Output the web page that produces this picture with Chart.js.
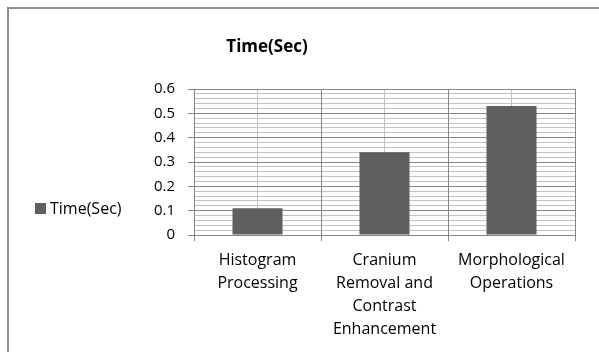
<!DOCTYPE html>
<html>
<head>
<meta charset="utf-8">
<script src="https://cdn.jsdelivr.net/npm/chart.js@4.4.1/dist/chart.umd.min.js"></script>
<style>
  html, body { margin: 0; padding: 0; background: #ffffff; }
  #wrap { position: relative; width: 599px; height: 352px; overflow: hidden; }
  #frame { position: absolute; left: 7px; top: 7px; width: 700px; height: 500px;
           border-left: 2px solid #8e8e8e; border-top: 2px solid #8e8e8e; }
  canvas { position: absolute; left: 0; top: 0; }
</style>
</head>
<body>
<div id="wrap">
  <div id="frame"></div>
  <canvas id="chart" width="599" height="352"></canvas>
</div>
<script>
// Processing stages and their run time in seconds
const categories = [
  ["Histogram", "Processing"],
  ["Cranium", "Removal and", "Contrast", "Enhancement"],
  ["Morphological", "Operations"]
];
const seriesName = "Time(Sec)";
const timeSec = [0.11, 0.34, 0.53];

const FONT = "'Open Sans', 'DejaVu Sans', sans-serif";
const MAJOR = "#868686";
const MINOR = "#c3c3c3";
const BAR = "#5f5f5f";

// Title and left-side legend drawn onto the canvas
const decorations = {
  id: "decorations",
  afterDraw(chart) {
    const ctx = chart.ctx;
    ctx.save();
    ctx.fillStyle = "#000000";
    ctx.font = "bold 17px " + FONT;
    ctx.textAlign = "center";
    ctx.textBaseline = "middle";
    ctx.fillText(chart.options.plugins.title.text, 267, 47);

    const ds = chart.data.datasets[0];
    ctx.fillStyle = ds.backgroundColor;
    ctx.fillRect(35, 203, 11, 11);
    ctx.fillStyle = "#000000";
    ctx.font = "16px " + FONT;
    ctx.textAlign = "left";
    ctx.fillText(ds.label, 50, 209);
    ctx.restore();
  }
};

new Chart(document.getElementById("chart"), {
  type: "bar",
  data: {
    labels: categories,
    datasets: [{
      label: seriesName,
      data: timeSec,
      backgroundColor: BAR,
      borderWidth: 0,
      categoryPercentage: 1,
      barPercentage: 0.394
    }]
  },
  options: {
    responsive: false,
    animation: false,
    layout: { padding: { left: 0, right: 24, top: 89, bottom: 0 } },
    plugins: {
      legend: { display: false },
      tooltip: { enabled: false },
      title: { display: false, text: "Time(Sec)" }
    },
    scales: {
      x: {
        type: "category",
        position: "bottom",
        offset: true,
        grid: { offset: true, color: MAJOR, lineWidth: 1, tickLength: 6, z: -1 },
        border: { color: MAJOR, width: 1 },
        ticks: {
          color: "#000000",
          padding: 8,
          maxRotation: 0,
          autoSkip: false,
          font: { family: FONT, size: 16, lineHeight: 23 / 16 }
        },
        afterFit(scale) { scale.height = 352 - 235; }
      },
      xMinor: {
        type: "category",
        position: "top",
        offset: true,
        grid: { offset: false, color: MINOR, lineWidth: 1, drawTicks: false, z: -2 },
        border: { display: false },
        ticks: { display: false },
        afterFit(scale) { scale.height = 0; }
      },
      y: {
        type: "linear",
        position: "left",
        min: 0,
        max: 0.6,
        ticks: {
          stepSize: 0.1,
          color: "#000000",
          padding: 13,
          font: { family: FONT, size: 15 },
          callback: (v) => (Math.round(v * 10) / 10).toString()
        },
        grid: { color: MAJOR, lineWidth: 1, tickLength: 6, z: -1 },
        border: { color: MAJOR, width: 1 },
        afterFit(scale) { scale.width = 194; }
      },
      yMinor: {
        type: "linear",
        position: "right",
        min: 0,
        max: 0.6,
        ticks: { display: false, stepSize: 0.02 },
        grid: { color: MINOR, lineWidth: 1, drawTicks: false, z: -2 },
        border: { display: false },
        afterFit(scale) { scale.width = 0; }
      }
    }
  },
  plugins: [decorations]
});
</script>
</body>
</html>
